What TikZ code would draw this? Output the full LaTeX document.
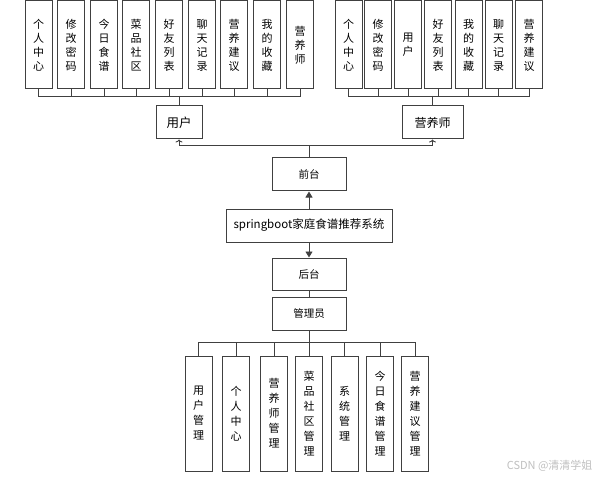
\documentclass[tikz,border=0pt]{standalone}
\usepackage{fontspec}
\newfontfamily\cjk{Noto Sans CJK SC}
\usetikzlibrary{arrows.meta}
\begin{document}
\begin{tikzpicture}[x=1pt, y=-1pt,
  line/.style={draw=black!75, line width=0.9pt},
  box/.style={draw=black!75, line width=1pt, fill=white, inner sep=0pt, font=\cjk},
  vtop/.style={box, minimum width=27pt, minimum height=88pt, align=center, font=\cjk\fontsize{11}{14}\selectfont},
  vlow/.style={box, minimum width=27pt, minimum height=115pt, align=center, font=\cjk\fontsize{11}{15}\selectfont},
  hbox/.style={box, minimum height=33pt, font=\cjk\fontsize{10.5}{12}\selectfont}]
\useasboundingbox (0,0) rectangle (601,478);
% user items
\node[vtop] (ui1) at (38.5,45){个\\人\\中\\心};
\node[vtop] (ui2) at (71,45){修\\改\\密\\码};
\node[vtop] (ui3) at (104,45){今\\日\\食\\谱};
\node[vtop] (ui4) at (136,45){菜\\品\\社\\区};
\node[vtop] (ui5) at (169,45){好\\友\\列\\表};
\node[vtop] (ui6) at (202,45){聊\\天\\记\\录};
\node[vtop] (ui7) at (234,45){营\\养\\建\\议};
\node[vtop] (ui8) at (267,45){我\\的\\收\\藏};
\node[vtop] (ui9) at (300,45){营\\养\\师};
% dietitian items
\node[vtop] (di1) at (348.5,45){个\\人\\中\\心};
\node[vtop] (di2) at (378,45){修\\改\\密\\码};
\node[vtop] (di3) at (408,45){用\\户};
\node[vtop] (di4) at (438,45){好\\友\\列\\表};
\node[vtop] (di5) at (468.5,45){我\\的\\收\\藏};
\node[vtop] (di6) at (498.5,45){聊\\天\\记\\录};
\node[vtop] (di7) at (529,45){营\\养\\建\\议};
% roles
\node[hbox, minimum width=46pt, font=\cjk\fontsize{12.5}{14}\selectfont] (user) at (179,122.5){用户};
\node[hbox, minimum width=61pt, font=\cjk\fontsize{12}{14}\selectfont] (diet) at (432.5,122.5){营养师};
\node[hbox, minimum width=74pt] (front) at (309,174.5){前台};
\node[hbox, minimum width=166pt, font=\cjk\fontsize{11.5}{14}\selectfont] (sys) at (309,225.5){springboot家庭食谱推荐系统};
\node[hbox, minimum width=74pt, minimum height=32pt] (back) at (309,274){后台};
\node[hbox, minimum width=74pt] (admin) at (309,313.5){管理员};
% admin items
\node[vlow] (ai1) at (198.5,413.5){用\\户\\管\\理};
\node[vlow] (ai2) at (236,413.5){个\\人\\中\\心};
\node[vlow] (ai3) at (274,413.5){营\\养\\师\\管\\理};
\node[vlow] (ai4) at (309,413.5){菜\\品\\社\\区\\管\\理};
\node[vlow] (ai5) at (344.5,413.5){系\\统\\管\\理};
\node[vlow] (ai6) at (380,413.5){今\\日\\食\\谱\\管\\理};
\node[vlow] (ai7) at (415,413.5){营\\养\\建\\议\\管\\理};
% buses
\coordinate (ubus) at (179,96);
\coordinate (dbus) at (432.5,96);
\coordinate (fbus) at (309,145);
\coordinate (abus) at (309,342);
\draw[line](ui1.south) |- (ubus);
\draw[line](ui2.south) |- (ubus);
\draw[line](ui3.south) |- (ubus);
\draw[line](ui4.south) |- (ubus);
\draw[line](ui5.south) |- (ubus);
\draw[line](ui6.south) |- (ubus);
\draw[line](ui7.south) |- (ubus);
\draw[line](ui8.south) |- (ubus);
\draw[line](ui9.south) |- (ubus);
\draw[line](ubus) -- (user.north);
\draw[line](di1.south) |- (dbus);
\draw[line](di2.south) |- (dbus);
\draw[line](di3.south) |- (dbus);
\draw[line](di4.south) |- (dbus);
\draw[line](di5.south) |- (dbus);
\draw[line](di6.south) |- (dbus);
\draw[line](di7.south) |- (dbus);
\draw[line](dbus) -- (diet.north);
\draw[line](front.north) -- (fbus);
\draw[line, -{To[length=3pt,width=7pt]}](fbus) -| (user.south);
\draw[line, -{To[length=3pt,width=7pt]}](fbus) -| (diet.south);
\draw[line, -{Triangle[length=6pt,width=7pt]}](sys.north) -- (front.south);
\draw[line, -{Triangle[length=6pt,width=7pt]}](sys.south) -- (back.north);
\draw[line](back.south) -- (admin.north);
\draw[line](admin.south) -- (abus);
\draw[line](abus) -| (ai1.north);
\draw[line](abus) -| (ai2.north);
\draw[line](abus) -| (ai3.north);
\draw[line](abus) -- (ai4.north);
\draw[line](abus) -| (ai5.north);
\draw[line](abus) -| (ai6.north);
\draw[line](abus) -| (ai7.north);
\node[font=\cjk\fontsize{11}{12}\selectfont, text=black!25, anchor=east] (mark) at (596,466){CSDN @清清学姐};
\end{tikzpicture}
\end{document}
